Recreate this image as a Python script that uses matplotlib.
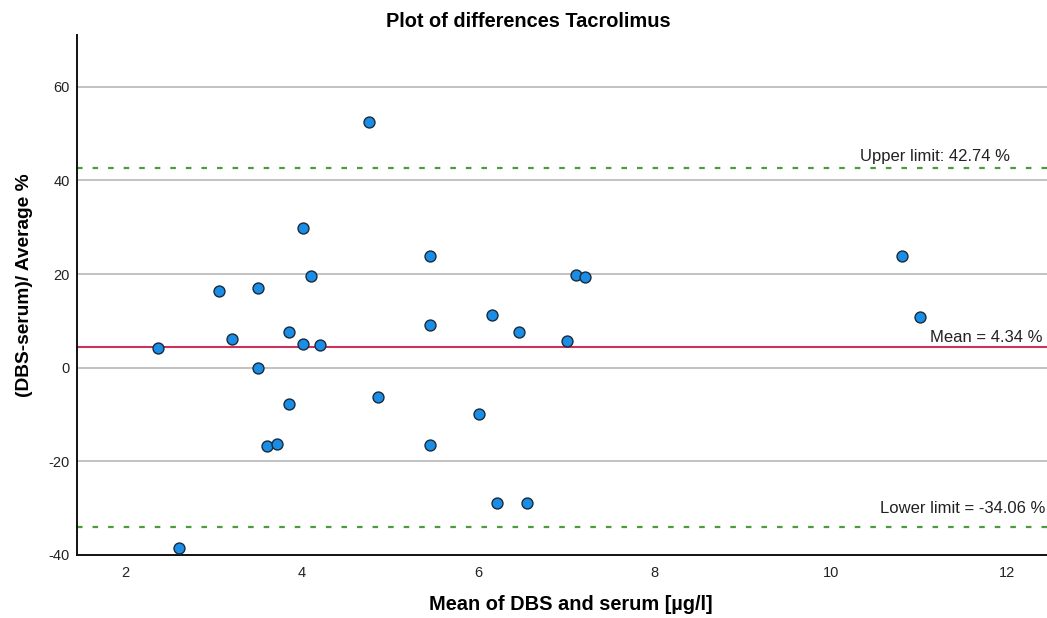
import matplotlib
matplotlib.use("Agg")
import matplotlib.pyplot as plt

plt.rcParams['font.family'] = ['Liberation Sans', 'DejaVu Sans']
plt.rcParams['axes.unicode_minus'] = False

# Mean of DBS and serum [µg/l]
mean_conc = [2.37, 2.61, 3.06, 3.51, 3.21, 3.86, 4.01, 4.21, 3.51, 4.01,
             4.11, 3.86, 3.61, 3.72, 4.86, 4.76, 5.46, 5.46, 5.46, 6.16,
             6.46, 7.01, 6.01, 6.21, 6.56, 7.11, 7.21, 10.81, 11.01]
# (DBS-serum)/average in %
pct_diff = [4.2, -38.5, 16.4, 17.1, 6.2, 7.7, 5.0, 4.8, 0.0, 29.9,
            19.5, -7.8, -16.7, -16.2, -6.3, 52.5, 23.8, 9.2, -16.6, 11.3,
            7.7, 5.6, -10.0, -29.0, -29.0, 19.7, 19.4, 23.9, 10.8]

mean_diff = 4.34
upper_loa = 42.74
lower_loa = -34.06

y_ticks = [-40, -20, 0, 20, 40, 60]
x_ticks = [2, 4, 6, 8, 10, 12]

fig = plt.figure(figsize=(10.47, 6.18), dpi=100)
ax = fig.add_axes([0.0733, 0.102, 0.9267, 0.841])

ax.set_xlim(1.45, 12.45)
ax.set_ylim(-40, 71)

for yt in y_ticks[1:]:
    ax.axhline(yt, color='#bdbdbd', linewidth=1.3, zorder=1)

ax.axhline(mean_diff, color='#c9335c', linewidth=1.5, zorder=2)
ax.axhline(upper_loa, color='#4d9a3f', linewidth=1.6, linestyle=(0, (2.5, 4.5)), zorder=2)
ax.axhline(lower_loa, color='#4d9a3f', linewidth=1.6, linestyle=(0, (2.5, 4.5)), zorder=2)

ax.scatter(mean_conc, pct_diff, s=62, color='#1a8ee6', edgecolor='#1a2a3a',
           linewidth=1.0, zorder=3)

ax.text(12.03, upper_loa + 2.3, f'Upper limit: {upper_loa:.2f} %', ha='right', va='center',
        fontsize=12, color='#222222')
ax.text(12.4, mean_diff + 2.2, f'Mean = {mean_diff:.2f} %', ha='right', va='center',
        fontsize=12, color='#222222')
ax.text(12.43, lower_loa + 3.9, f'Lower limit = {lower_loa:.2f} %', ha='right', va='center',
        fontsize=12, color='#222222')

ax.set_xticks(x_ticks)
ax.set_yticks(y_ticks)
ax.tick_params(axis='y', length=0, labelsize=10.5, colors='#222222', pad=5)
ax.tick_params(axis='x', length=0, labelsize=10.5, colors='#222222', pad=8)

for side in ('top', 'right'):
    ax.spines[side].set_visible(False)
for side in ('left', 'bottom'):
    ax.spines[side].set_color('#111111')
    ax.spines[side].set_linewidth(1.4)

fig.text(0.545, 1 - 604 / 618, 'Mean of DBS and serum [µg/l]', ha='center', va='center',
         fontsize=14.4, fontweight='bold')
fig.text(25 / 1047, 1 - 285 / 618, '(DBS-serum)/ Average %', ha='center', va='center',
         rotation=90, fontsize=13.8, fontweight='bold')
fig.text(528 / 1047, 1 - 21.5 / 618, 'Plot of differences Tacrolimus', ha='center', va='center',
         fontsize=14.4, fontweight='bold')

fig.savefig('out.png', dpi=100)
